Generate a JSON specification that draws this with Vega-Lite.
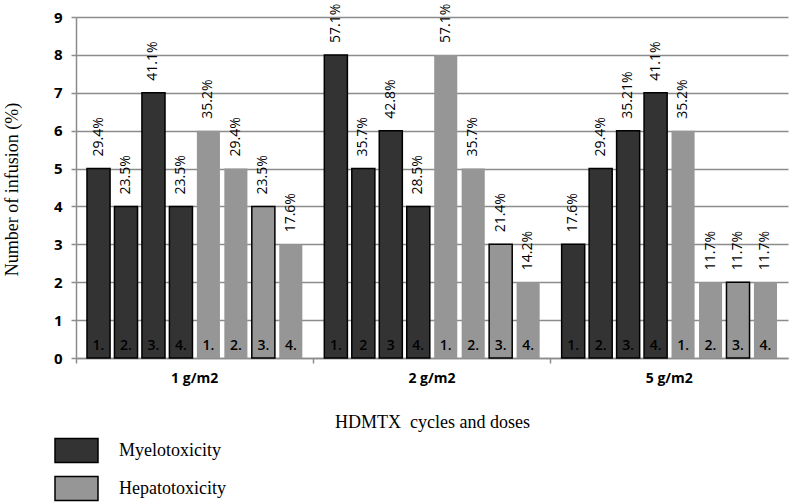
{
  "$schema": "https://vega.github.io/schema/vega-lite/v6.json",
  "width": 712,
  "height": 341,
  "autosize": {"type": "none"},
  "padding": {"left": 76, "top": 17, "right": 1, "bottom": 144},
  "background": "white",
  "config": {"view": {"stroke": null}, "font": "Open Sans"},
  "data": {
    "values": [
      {"dose": "1 g/m2", "type": "Myelotoxicity", "cycle": 1, "label": "1.", "value": 5, "pct": "29.4%"},
      {"dose": "1 g/m2", "type": "Myelotoxicity", "cycle": 2, "label": "2.", "value": 4, "pct": "23.5%"},
      {"dose": "1 g/m2", "type": "Myelotoxicity", "cycle": 3, "label": "3.", "value": 7, "pct": "41.1%"},
      {"dose": "1 g/m2", "type": "Myelotoxicity", "cycle": 4, "label": "4.", "value": 4, "pct": "23.5%"},
      {"dose": "1 g/m2", "type": "Hepatotoxicity", "cycle": 1, "label": "1.", "value": 6, "pct": "35.2%"},
      {"dose": "1 g/m2", "type": "Hepatotoxicity", "cycle": 2, "label": "2.", "value": 5, "pct": "29.4%"},
      {"dose": "1 g/m2", "type": "Hepatotoxicity", "cycle": 3, "label": "3.", "value": 4, "pct": "23.5%"},
      {"dose": "1 g/m2", "type": "Hepatotoxicity", "cycle": 4, "label": "4.", "value": 3, "pct": "17.6%"},
      {"dose": "2 g/m2", "type": "Myelotoxicity", "cycle": 1, "label": "1.", "value": 8, "pct": "57.1%"},
      {"dose": "2 g/m2", "type": "Myelotoxicity", "cycle": 2, "label": "2", "value": 5, "pct": "35.7%"},
      {"dose": "2 g/m2", "type": "Myelotoxicity", "cycle": 3, "label": "3", "value": 6, "pct": "42.8%"},
      {"dose": "2 g/m2", "type": "Myelotoxicity", "cycle": 4, "label": "4.", "value": 4, "pct": "28.5%"},
      {"dose": "2 g/m2", "type": "Hepatotoxicity", "cycle": 1, "label": "1.", "value": 8, "pct": "57.1%"},
      {"dose": "2 g/m2", "type": "Hepatotoxicity", "cycle": 2, "label": "2.", "value": 5, "pct": "35.7%"},
      {"dose": "2 g/m2", "type": "Hepatotoxicity", "cycle": 3, "label": "3.", "value": 3, "pct": "21.4%"},
      {"dose": "2 g/m2", "type": "Hepatotoxicity", "cycle": 4, "label": "4.", "value": 2, "pct": "14.2%"},
      {"dose": "5 g/m2", "type": "Myelotoxicity", "cycle": 1, "label": "1.", "value": 3, "pct": "17.6%"},
      {"dose": "5 g/m2", "type": "Myelotoxicity", "cycle": 2, "label": "2.", "value": 5, "pct": "29.4%"},
      {"dose": "5 g/m2", "type": "Myelotoxicity", "cycle": 3, "label": "3.", "value": 6, "pct": "35.21%"},
      {"dose": "5 g/m2", "type": "Myelotoxicity", "cycle": 4, "label": "4.", "value": 7, "pct": "41.1%"},
      {"dose": "5 g/m2", "type": "Hepatotoxicity", "cycle": 1, "label": "1.", "value": 6, "pct": "35.2%"},
      {"dose": "5 g/m2", "type": "Hepatotoxicity", "cycle": 2, "label": "2.", "value": 2, "pct": "11.7%"},
      {"dose": "5 g/m2", "type": "Hepatotoxicity", "cycle": 3, "label": "3.", "value": 2, "pct": "11.7%"},
      {"dose": "5 g/m2", "type": "Hepatotoxicity", "cycle": 4, "label": "4.", "value": 2, "pct": "11.7%"}
    ]
  },
  "transform": [{"calculate": "datum.type + ' ' + datum.cycle", "as": "key"}],
  "encoding": {
    "x": {
      "field": "dose",
      "type": "nominal",
      "sort": ["1 g/m2", "2 g/m2", "5 g/m2"],
      "scale": {"paddingInner": 0, "paddingOuter": 0},
      "axis": {
        "title": "HDMTX\u00a0 cycles and doses",
        "titleFont": "Liberation Serif",
        "titleFontSize": 18,
        "titleFontWeight": "normal",
        "titleColor": "black",
        "titleBaseline": "alphabetic",
        "titleY": 69,
        "labelAngle": 0,
        "labelFontSize": 14,
        "labelFontWeight": "bold",
        "labelColor": "black",
        "labelPadding": 8,
        "bandPosition": 0,
        "tickSize": 5,
        "tickColor": "#8c8c8c",
        "tickWidth": 1.5,
        "domainColor": "#8c8c8c",
        "domainWidth": 1.5,
        "grid": false
      }
    },
    "xOffset": {
      "field": "key",
      "type": "nominal",
      "sort": ["Myelotoxicity 1", "Myelotoxicity 2", "Myelotoxicity 3", "Myelotoxicity 4", "Hepatotoxicity 1", "Hepatotoxicity 2", "Hepatotoxicity 3", "Hepatotoxicity 4"],
      "scale": {"paddingInner": 0.16, "paddingOuter": 0.4}
    },
    "y": {
      "field": "value",
      "type": "quantitative",
      "scale": {"domain": [0, 9], "nice": false},
      "axis": {
        "title": "Number of infusion (%)",
        "titleFont": "Liberation Serif",
        "titleFontSize": 18,
        "titleFontWeight": "normal",
        "titleColor": "black",
        "titleX": -64,
        "titleY": 172,
        "titleBaseline": "middle",
        "titleAlign": "center",
        "titleAngle": -90,
        "values": [0, 1, 2, 3, 4, 5, 6, 7, 8, 9],
        "labelFontSize": 15,
        "labelFontWeight": "bold",
        "labelColor": "black",
        "labelPadding": 9,
        "tickSize": 5,
        "tickColor": "#8c8c8c",
        "tickWidth": 1.5,
        "domainColor": "#8c8c8c",
        "domainWidth": 1.5,
        "grid": true,
        "gridColor": "#8c8c8c",
        "gridWidth": 1.5
      }
    }
  },
  "layer": [
    {
      "mark": {"type": "bar", "stroke": "black"},
      "encoding": {
        "color": {
          "field": "type",
          "type": "nominal",
          "scale": {"domain": ["Myelotoxicity", "Hepatotoxicity"], "range": ["#333333", "#969696"]},
          "legend": {
            "title": null,
            "orient": "none",
            "legendX": -22,
            "legendY": 411,
            "padding": 0,
            "symbolType": "M-1,-0.56H1V0.56H-1Z",
            "symbolSize": 1849,
            "symbolStrokeColor": "black",
            "symbolStrokeWidth": 1.5,
            "symbolOpacity": 1,
            "labelFont": "Liberation Serif",
            "labelFontSize": 18,
            "labelColor": "black",
            "labelOffset": 20,
            "rowPadding": -4
          }
        },
        "strokeWidth": {
          "condition": {"test": "datum.type === 'Myelotoxicity' || datum.cycle === 3", "value": 1.5},
          "value": 0
        }
      }
    },
    {
      "mark": {"type": "text", "angle": -90, "align": "left", "baseline": "middle", "dx": 12, "fontSize": 14, "color": "black"},
      "encoding": {"text": {"field": "pct"}}
    },
    {
      "mark": {"type": "text", "baseline": "bottom", "dy": -5, "fontSize": 14, "fontWeight": 600, "color": "black"},
      "encoding": {"y": {"datum": 0, "type": "quantitative"}, "text": {"field": "label"}}
    }
  ]
}
